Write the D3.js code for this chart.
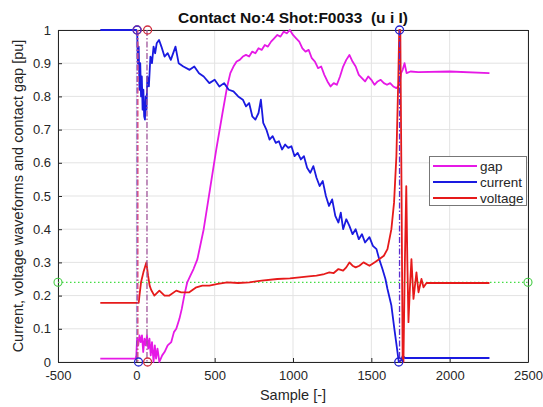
<!DOCTYPE html>
<html><head><meta charset="utf-8">
<script src="https://cdn.jsdelivr.net/npm/d3@7"></script>
<style>body{margin:0;background:#fff}svg{display:block;font-family:"Liberation Sans",Arial,sans-serif}</style>
</head><body><svg id="c" width="543" height="407"></svg>
<script>
// ---- data ----
const xTicks = [-500, 0, 500, 1000, 1500, 2000, 2500];
const yTicks = [0, 0.1, 0.2, 0.3, 0.4, 0.5, 0.6, 0.7, 0.8, 0.9, 1];
const seriesNames = ["gap", "current", "voltage"];
const seriesColors = ["#e619e6", "#1a1ae0", "#e61a1a"];

const gapPts = [[-230,0.01],[-5,0.01],[0,0.02],[5,0.07],[12,0.05],[20,0.08],[28,0.06],[36,0.08],[44,0.03],[52,0.07],[60,0.05],[68,0.08],[76,0.04],[84,0.07],[92,0.02],[100,0.06],[110,0.0],[118,0.05],[126,0.01],[135,0.04],[147,0.0],[165,0.02],[180,0.03],[200,0.05],[223,0.06],[240,0.09],[255,0.10],[275,0.13],[290,0.16],[306,0.20],[325,0.24],[345,0.26],[365,0.28],[390,0.31],[430,0.40],[470,0.52],[510,0.64],[550,0.75],[580,0.83],[600,0.87],[620,0.89],[640,0.905],[660,0.91],[680,0.92],[700,0.925],[720,0.92],[740,0.935],[760,0.93],[780,0.945],[800,0.94],[820,0.955],[840,0.95],[860,0.965],[880,0.975],[900,0.985],[920,0.98],[940,0.995],[960,0.99],[980,1.0],[1000,0.985],[1020,0.975],[1040,0.965],[1060,0.945],[1080,0.935],[1100,0.94],[1120,0.915],[1140,0.905],[1160,0.885],[1180,0.89],[1200,0.865],[1220,0.845],[1240,0.83],[1260,0.84],[1280,0.835],[1300,0.86],[1320,0.89],[1340,0.91],[1360,0.925],[1380,0.905],[1400,0.89],[1420,0.865],[1440,0.855],[1460,0.845],[1480,0.86],[1500,0.85],[1520,0.835],[1540,0.845],[1560,0.85],[1580,0.84],[1600,0.835],[1620,0.84],[1640,0.83],[1660,0.825],[1680,0.835],[1690,0.87],[1700,0.88],[1712,0.9],[1725,0.87],[1750,0.875],[1800,0.873],[2000,0.875],[2254,0.87]];

const currentPts = [[-230,1.0],[0,1.0],[6,0.99],[10,0.90],[15,0.95],[20,0.82],[25,0.90],[30,0.80],[35,0.86],[40,0.76],[45,0.82],[50,0.74],[55,0.73],[60,0.80],[65,0.76],[70,0.86],[80,0.83],[90,0.92],[100,0.90],[110,0.95],[120,0.93],[130,0.96],[145,0.97],[160,0.95],[180,0.92],[200,0.93],[220,0.91],[250,0.95],[270,0.90],[300,0.89],[340,0.88],[370,0.89],[400,0.87],[430,0.86],[466,0.84],[500,0.85],[530,0.83],[560,0.84],[590,0.82],[620,0.815],[650,0.80],[680,0.79],[700,0.77],[720,0.78],[740,0.74],[760,0.73],[780,0.75],[795,0.79],[810,0.72],[830,0.70],[850,0.67],[870,0.68],[890,0.66],[910,0.665],[930,0.64],[950,0.655],[970,0.645],[990,0.65],[1010,0.62],[1030,0.63],[1050,0.61],[1070,0.62],[1090,0.585],[1110,0.57],[1130,0.59],[1150,0.555],[1170,0.53],[1190,0.545],[1210,0.50],[1230,0.47],[1250,0.49],[1270,0.44],[1290,0.42],[1305,0.45],[1320,0.40],[1340,0.43],[1360,0.41],[1380,0.385],[1400,0.40],[1420,0.37],[1440,0.385],[1460,0.36],[1488,0.376],[1510,0.35],[1533,0.34],[1550,0.31],[1571,0.28],[1590,0.25],[1603,0.22],[1628,0.17],[1647,0.10],[1667,0.03],[1675,0.0],[1690,0.005],[1700,0.018],[1715,0.012],[2254,0.012]];

const voltagePts = [[-230,0.178],[15,0.178],[20,0.20],[30,0.24],[45,0.27],[64,0.30],[75,0.26],[85,0.23],[95,0.217],[115,0.20],[147,0.215],[180,0.20],[211,0.2],[255,0.215],[286,0.21],[338,0.21],[383,0.225],[421,0.23],[466,0.23],[520,0.235],[580,0.24],[650,0.238],[721,0.24],[800,0.245],[900,0.25],[980,0.252],[1041,0.255],[1100,0.258],[1150,0.26],[1200,0.265],[1232,0.27],[1260,0.268],[1290,0.28],[1320,0.275],[1340,0.285],[1360,0.30],[1380,0.29],[1400,0.285],[1424,0.29],[1450,0.30],[1488,0.29],[1520,0.30],[1552,0.31],[1580,0.32],[1603,0.34],[1628,0.40],[1645,0.48],[1660,0.62],[1672,0.85],[1678,1.0],[1685,1.0],[1693,0.5],[1700,0.0],[1705,0.0],[1714,0.3],[1723,0.53],[1730,0.3],[1737,0.12],[1746,0.22],[1756,0.31],[1769,0.19],[1788,0.27],[1801,0.21],[1820,0.25],[1833,0.225],[1852,0.238],[2254,0.238]];

const thresholdLevel = 0.24;
// event markers: sample positions
const eventLines = [
  {s: 5, color: "#6a3cc8"},
  {s: 10, color: "#e0507a"},
  {s: 68, color: "#a0559a"},
  {s: 1680, color: "#5a2fd0"}
];
const topMarkers = [{s: 6, v: 1, color: "#c0305a"}, {s: 4, v: 1, color: "#4a30c8"}, {s: 72, v: 1, color: "#d03040"}, {s: 1680, v: 1, color: "#2020d0"}];
const bottomMarkers = [{s: 14, v: 0, color: "#2a2ad0"}, {s: 72, v: 0, color: "#d03040"}, {s: 1675, v: 0, color: "#2020d0"}];

// ---- chart ----
const svg = d3.select("#c");
const M = {l: 58, r: 528, t: 30, b: 362};
const x = d3.scaleLinear().domain([-500, 2500]).range([M.l, M.r]);
const y = d3.scaleLinear().domain([0, 1]).range([M.b, M.t]);
const txt = "#262626";

// grid
svg.append("g").selectAll("line").data(xTicks).join("line")
  .attr("x1", d => x(d)).attr("x2", d => x(d)).attr("y1", M.t).attr("y2", M.b)
  .attr("stroke", "#e3e3e3").attr("stroke-width", 1);
svg.append("g").selectAll("line").data(yTicks).join("line")
  .attr("y1", d => y(d)).attr("y2", d => y(d)).attr("x1", M.l).attr("x2", M.r)
  .attr("stroke", "#e3e3e3").attr("stroke-width", 1);

// axes
const xAxis = svg.append("g").attr("transform", `translate(0,${M.b})`)
  .call(d3.axisBottom(x).tickValues(xTicks).tickSize(-4).tickPadding(9).tickFormat(d => String(d)));
const yAxis = svg.append("g").attr("transform", `translate(${M.l},0)`)
  .call(d3.axisLeft(y).tickValues(yTicks).tickSize(-4).tickPadding(7).tickFormat(d => String(d)));
[xAxis, yAxis].forEach(a => {
  a.select(".domain").attr("stroke", txt);
  a.selectAll(".tick line").attr("stroke", txt);
  a.selectAll("text").attr("fill", txt).style("font-size", "13px").style("font-family", '"Liberation Sans",Arial,sans-serif');
});
// box top/right
svg.append("line").attr("x1", M.l).attr("x2", M.r).attr("y1", M.t + 0.5).attr("y2", M.t + 0.5).attr("stroke", txt);
svg.append("line").attr("x1", M.r + 0.5).attr("x2", M.r + 0.5).attr("y1", M.t).attr("y2", M.b).attr("stroke", txt);

// threshold dotted
svg.append("line").attr("x1", x(-500)).attr("x2", x(2500)).attr("y1", y(thresholdLevel)).attr("y2", y(thresholdLevel))
  .attr("stroke", "#44dd44").attr("stroke-width", 1.2).attr("stroke-dasharray", "1.5,2.5");

const line = d3.line().x(d => x(d[0])).y(d => y(d[1]));
const allSeries = [gapPts, currentPts, voltagePts];
allSeries.forEach((pts, i) => {
  svg.append("path").datum(pts).attr("d", line).attr("fill", "none")
    .attr("stroke", seriesColors[i]).attr("stroke-width", 1.8).attr("stroke-linejoin", "round");
});

// event vertical lines
svg.append("g").selectAll("line").data(eventLines).join("line")
  .attr("x1", d => x(d.s)).attr("x2", d => x(d.s)).attr("y1", M.t).attr("y2", M.b)
  .attr("stroke", d => d.color).attr("stroke-width", 1.3).attr("stroke-dasharray", "6,2,1.5,2");

// markers
svg.append("g").selectAll("circle").data(topMarkers.concat(bottomMarkers)).join("circle")
  .attr("cx", d => x(d.s)).attr("cy", d => y(d.v)).attr("r", 4)
  .attr("fill", "none").attr("stroke", d => d.color).attr("stroke-width", 1.3);
svg.append("g").selectAll("circle").data([-500, 2500]).join("circle")
  .attr("cx", d => x(d)).attr("cy", y(thresholdLevel)).attr("r", 4)
  .attr("fill", "none").attr("stroke", "#44cc44").attr("stroke-width", 1.1);

// title and labels
svg.append("text").attr("x", 293).attr("y", 23).attr("text-anchor", "middle")
  .attr("fill", "#111").style("font-size", "15.5px").style("font-weight", "bold").style("white-space", "pre")
  .attr("xml:space", "preserve")
  .text("Contact No:4 Shot:F0033  (u i I)");
svg.append("text").attr("x", 293).attr("y", 400).attr("text-anchor", "middle")
  .attr("fill", txt).style("font-size", "14.5px").text("Sample [-]");
svg.append("text").attr("transform", `translate(23,${(M.t + M.b) / 2}) rotate(-90)`).attr("text-anchor", "middle")
  .attr("fill", txt).style("font-size", "14.5px").text("Current, voltage waveforms and contact gap [pu]");

// legend
const lg = svg.append("g").attr("transform", "translate(429,156)");
lg.append("rect").attr("x", 0.5).attr("y", 0.5).attr("width", 97).attr("height", 49)
  .attr("fill", "#fff").attr("stroke", "#777").attr("stroke-width", 1);
seriesNames.forEach((n, i) => {
  const yy = 10 + i * 16;
  lg.append("line").attr("x1", 4).attr("x2", 48).attr("y1", yy).attr("y2", yy)
    .attr("stroke", seriesColors[i]).attr("stroke-width", 1.8);
  lg.append("text").attr("x", 51).attr("y", yy + 4.5).attr("fill", txt).style("font-size", "13.5px").text(n);
});
</script></body></html>
